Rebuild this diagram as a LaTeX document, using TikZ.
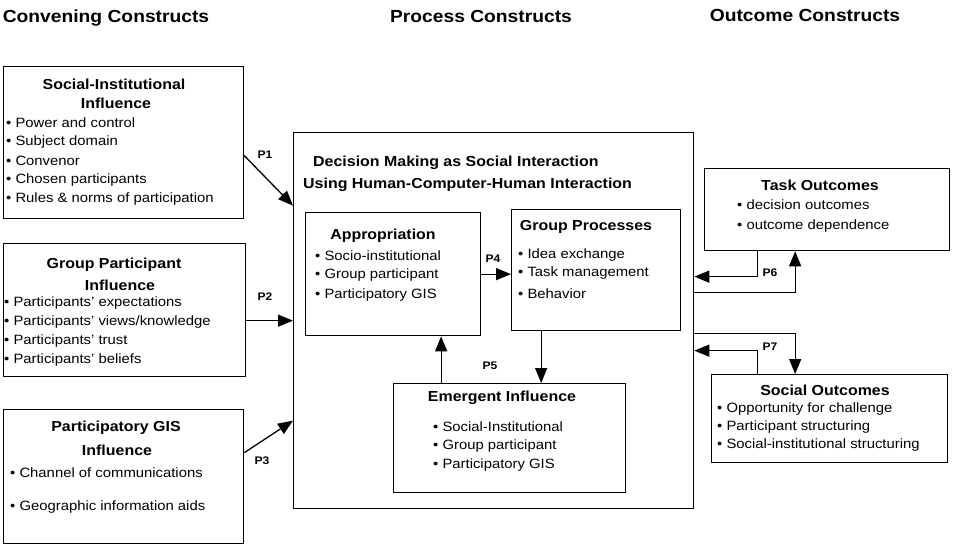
\documentclass[tikz,border=0pt]{standalone}
\usepackage{fontspec}
\setmainfont{Liberation Sans}[FakeStretch=1.1]
\usetikzlibrary{arrows.meta}

\tikzset{
	kasse/.style={draw, line width=1.3pt, inner sep=0pt, anchor=north west},
	pil/.style={line width=1.3pt, -{Triangle[length=15pt,width=12pt]}},
	item/.style={anchor=west, inner sep=0pt, font=\fontsize{13.5}{16}\selectfont},
	titel/.style={inner sep=0pt, font=\bfseries\fontsize{14.5}{17}\selectfont},
	kopf/.style={inner sep=0pt, font=\bfseries\fontsize{17.5}{20}\selectfont},
	pnr/.style={inner sep=0pt, font=\bfseries\fontsize{11}{13}\selectfont},
}
\newcommand{\bitem}{\textbullet\ }

\begin{document}
\begin{tikzpicture}[x=1pt,y=-1pt]
			\useasboundingbox (0,0) rectangle (953,548);
			
			\node[kopf] (hconv) at (106,18) {Convening Constructs};
			\node[kopf] (hproc) at (481,16) {Process Constructs};
			\node[kopf] (hout) at (805,15) {Outcome Constructs};
			
			% convening
			\node[kasse, minimum width=240pt, minimum height=152pt] (si) at (3,66) {};
			\node[titel] (sit1) at (114,84) {Social-Institutional};
			\node[titel] (sit2) at (116,103) {Influence};
			\foreach \t [count=\i] in {Power and control, Subject domain, Convenor, Chosen participants, Rules \& norms of participation}
				\node[item] (si\i) at (6,104+19*\i) {\bitem\t};
			
			\node[kasse, minimum width=242pt, minimum height=133pt] (gp) at (3,243) {};
			\node[titel] (gpt1) at (114,265) {Group Participant};
			\node[titel] (gpt2) at (120,285) {Influence};
			\foreach \t [count=\i] in {Participants' expectations, Participants' views/knowledge, Participants' trust, Participants' beliefs}
				\node[item] (gp\i) at (4,284+19*\i) {\bitem\t};
			
			\node[kasse, minimum width=240pt, minimum height=134pt] (pgis) at (3,409) {};
			\node[titel] (pgt1) at (116,428) {Participatory GIS};
			\node[titel] (pgt2) at (117,450) {Influence};
			\node[item] (pg1) at (10,473) {\bitem Channel of communications};
			\node[item] (pg2) at (10,507) {\bitem Geographic information aids};
			
			% process
			\node[kasse, minimum width=400pt, minimum height=376pt] (big) at (293,132) {};
			\node[titel, anchor=west] (bt1) at (313,163) {Decision Making as Social Interaction};
			\node[titel, anchor=west] (bt2) at (303,185) {Using Human-Computer-Human Interaction};
			
			\node[kasse, minimum width=175pt, minimum height=123pt] (ap) at (305,212) {};
			\node[titel] (apt) at (383,236) {Appropriation};
			\foreach \t [count=\i] in {Socio-institutional, Group participant, Participatory GIS}
				\node[item] (ap\i) at (315,236.5+19.5*\i) {\bitem\t};
			
			\node[kasse, minimum width=169pt, minimum height=121pt] (gpr) at (511,209) {};
			\node[titel] (gprt) at (586,227) {Group Processes};
			\node[item] (gpr1) at (518,255) {\bitem Idea exchange};
			\node[item] (gpr2) at (518,273) {\bitem Task management};
			\node[item] (gpr3) at (518,294) {\bitem Behavior};
			
			\node[kasse, minimum width=232pt, minimum height=109pt] (em) at (393,383) {};
			\node[titel] (emt) at (502,398) {Emergent Influence};
			\foreach \t [count=\i] in {Social-Institutional, Group participant, Participatory GIS}
				\node[item] (em\i) at (433,408+19*\i) {\bitem\t};
			
			% outcome
			\node[kasse, minimum width=245pt, minimum height=82pt] (task) at (704,168) {};
			\node[titel] (taskt) at (820,185) {Task Outcomes};
			\node[item] (task1) at (737,205) {\bitem decision outcomes};
			\node[item] (task2) at (737,226) {\bitem outcome dependence};
			
			\node[kasse, minimum width=236pt, minimum height=88pt] (so) at (711,374) {};
			\node[titel] (sot) at (825,390) {Social Outcomes};
			\foreach \t [count=\i] in {Opportunity for challenge, Participant structuring, Social-institutional structuring}
				\node[item] (so\i) at (717,391+18*\i) {\bitem\t};
			
			% links
			\draw[pil] ([yshift=-13pt]si.east) -- ([yshift=115pt]big.west);
			\node[pnr] (p1) at (265,155) {P1};
			\draw[pil] (gp.east |- big.west) -- (big.west);
			\node[pnr] (p2) at (265,297) {P2};
			\draw[pil] ([yshift=24pt]pgis.east) -- ([yshift=-100pt]big.west);
			\node[pnr] (p3) at (262,461) {P3};
			
			\draw[pil] (ap.east) -- (ap.east -| gpr.west);
			\node[pnr] (p4) at (493,259) {P4};
			
			\draw[pil] ([xshift=48pt]ap.south |- em.north) -- ([xshift=48pt]ap.south);
			\draw[pil] ([xshift=-55pt]gpr.south) -- ([xshift=-55pt]gpr.south |- em.north);
			\node[pnr] (p5) at (490,366) {P5};
			
			\draw[pil] ([xshift=-70pt]task.south) |- ([yshift=44pt]big.east);
			\draw[pil] ([yshift=28pt]big.east) -| ([xshift=-32pt]task.south);
			\node[pnr] (p6) at (770,273) {P6};
			
			\draw[pil] ([yshift=-13pt]big.east) -| ([xshift=-34.5pt]so.north);
			\draw[pil] ([xshift=-72pt]so.north) |- ([yshift=-30pt]big.east);
			\node[pnr] (p7) at (770,347) {P7};
			
		\end{tikzpicture}
\end{document}
